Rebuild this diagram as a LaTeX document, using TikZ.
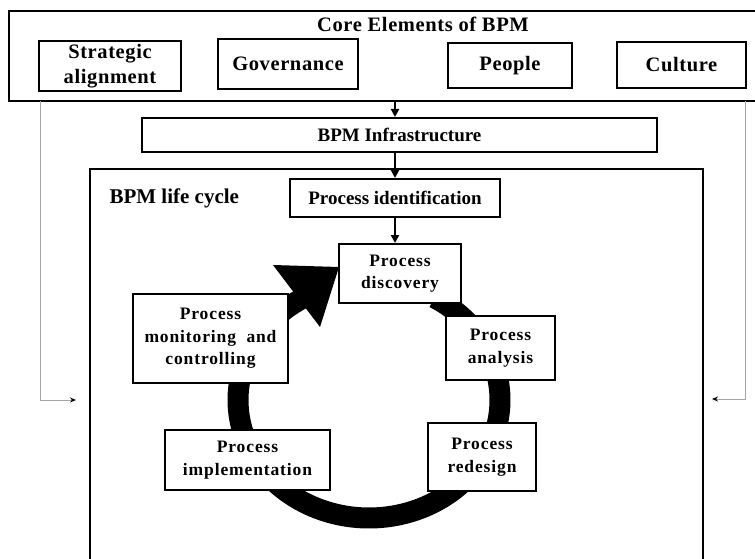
\documentclass[tikz,border=0pt]{standalone}
\usepackage{fontspec}
\setmainfont{Liberation Serif}
\usetikzlibrary{arrows.meta}
\newcommand{\cyclefont}{\bfseries\fontsize{17.5}{22.5}\selectfont\addfontfeature{LetterSpace=5}}
\newcommand{\topfont}{\bfseries\fontsize{20.5}{25}\selectfont\addfontfeature{LetterSpace=3}}
\begin{document}
\begin{tikzpicture}[x=1pt,y=-1pt,
  box/.style={draw=black, line width=2pt, fill=white, align=center, inner sep=0pt,
    font=\cyclefont},
  topbox/.style={box, font=\topfont},
  frame/.style={draw=black, line width=2pt, inner sep=0pt},
  flow/.style={line width=2pt, -{Triangle[length=8pt,width=8pt]}},
  feedback/.style={draw=black!35, line width=1pt, -{Stealth[length=6pt,width=5pt,color=black]}},
  ring/.style={line width=21pt, line cap=butt},
]
\useasboundingbox (0,0) rectangle (755,559);

% outer frames
\node[frame, line width=2.5pt, minimum width=753pt, minimum height=90pt] (core) at (385.5,56) {};
\node[anchor=base, font=\topfont] (title) at (423,32) {Core Elements of BPM};
\node[frame, minimum width=613pt, minimum height=401pt] (life) at (396.5,369.5) {};
\node[anchor=west, font=\bfseries\fontsize{21}{25}\selectfont] (lifelabel) at (106,198) {BPM life cycle};

% core element boxes
\node[topbox, minimum width=142pt, minimum height=50pt] (strat) at (110,66) {Strategic\\alignment};
\node[topbox, minimum width=140pt, minimum height=50pt] (gov) at (288,64) {Governance};
\node[topbox, minimum width=124pt, minimum height=45pt] (people) at (510,65.5) {People};
\node[topbox, minimum width=129pt, minimum height=46pt] (culture) at (681.5,65) {Culture};

% infrastructure and identification
\node[box, font=\bfseries\fontsize{19}{22}\selectfont, minimum width=515pt, minimum height=34pt] (infra) at (399.5,135) {BPM Infrastructure};
\node[box, font=\bfseries\fontsize{19}{22}\selectfont, minimum width=210pt, minimum height=38pt] (ident) at (395,198) {Process identification};

% cycle ring
\coordinate (ringc) at (369,400);
\draw[ring] plot[domain=-60:240, samples=150] ({369+131*cos(\x)},{400+118*sin(\x)});
\fill (273,265) -- (339,267) -- (320,327) -- cycle;

% cycle boxes
\node[box, minimum width=122pt, minimum height=59pt] (disc) at (400,273.5) {Process\\discovery};
\node[box, minimum width=109pt, minimum height=64pt] (anal) at (500.5,348) {Process\\analysis};
\node[box, minimum width=155pt, minimum height=89pt] (monit) at (210.5,338.5) {Process\\monitoring\ \ and\\controlling};
\node[box, minimum width=165pt, minimum height=60pt] (impl) at (247.5,460) {Process\\implementation};
\node[box, minimum width=108pt, minimum height=68pt] (redes) at (482,457) {Process\\redesign};

% flow arrows
\draw[flow] (core.south -| ident.north) -- (infra.north -| ident.north);
\draw[flow] (infra.south -| ident.north) -- (ident.north);
\draw[flow] (ident.south) -- (disc.north -| ident.south);

% feedback lines
\coordinate (lstart) at (40,101);
\coordinate (lend) at (76,400);
\coordinate (rstart) at (745,101);
\coordinate (rend) at (712,399);
\draw[feedback] (lstart) |- (lend);
\draw[feedback] (rstart) |- (rend);
\end{tikzpicture}
\end{document}
